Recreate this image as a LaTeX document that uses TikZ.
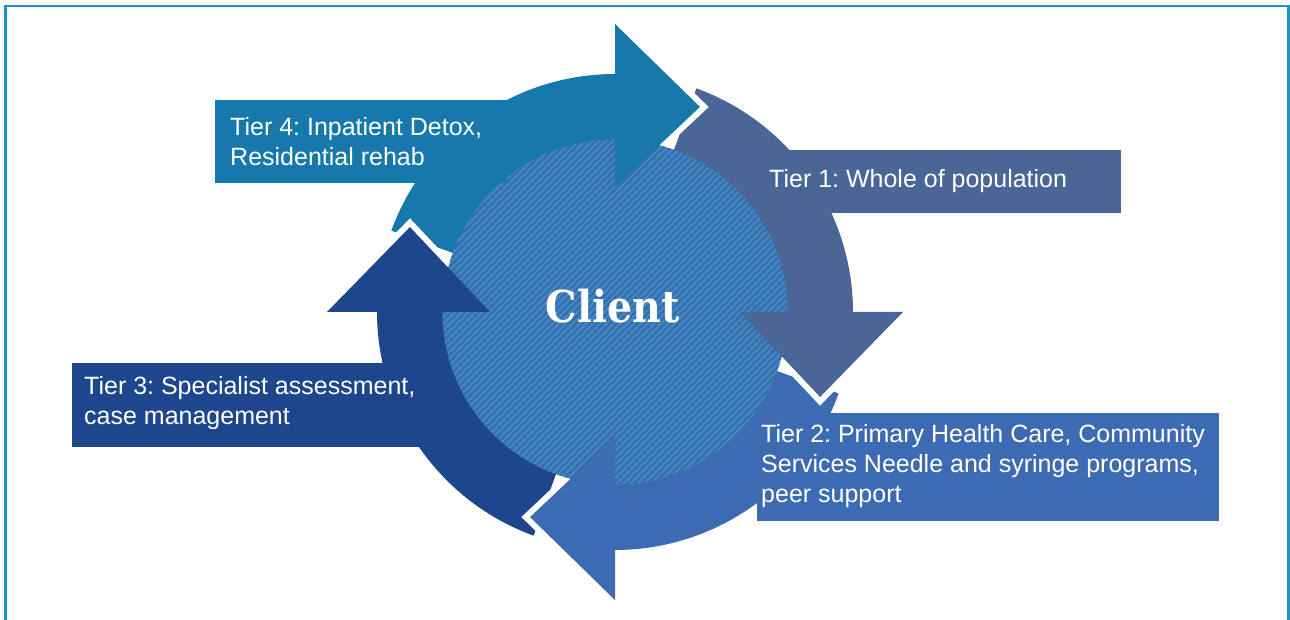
\documentclass[tikz,border=0pt]{standalone}
\usepackage{fontspec}
\setmainfont{Liberation Sans}
\newfontfamily\clientfont{DejaVu Serif Condensed}
\usetikzlibrary{calc}
\frenchspacing
\definecolor{cteal}{HTML}{1778AB}
\definecolor{cslate}{HTML}{4A6697}
\definecolor{cblue}{HTML}{3D6BB3}
\definecolor{cnavy}{HTML}{1D468C}
\definecolor{hlight}{HTML}{4189C8}
\definecolor{hdark}{HTML}{386FAA}
\definecolor{cframe}{HTML}{1A94C4}
\newcommand\ringbody[3]{\fill[#1] (#2:238) arc[start angle=#2,end angle=#3-0.6,radius=238] -- (#3-0.6:172) arc[start angle=#3-0.6,end angle=#2,radius=172] -- cycle;}
\newcommand\ringhead[2]{\fill[#1] (#2:288) -- (#2-22.5:222) -- (#2:125) -- cycle;}
\newcommand\ringgap[1]{\draw[white,line width=12pt,miter limit=10] (#1:288) -- (#1-22.5:222) -- (#1:125);}
\tikzset{
  labelbox/.style={rectangle, inner sep=0pt, draw=none, anchor=north west},
  labeltext/.style={text=white, inner sep=0pt, anchor=base west, align=left,
    font=\fontsize{25}{30}\selectfont},
}
\begin{document}
\begin{tikzpicture}[x=1pt,y=1pt]
\useasboundingbox (0,0) rectangle (1290,619);
\coordinate (C) at (615,307);
% frame
\draw[cframe, line width=2.2pt] (5.5,-3) -- (5.5,613) -- (1288.5,613) -- (1288.5,-3);
\begin{scope}[shift={(615,307)}]
  % bodies
  \ringbody{cteal}{160}{90}
  \ringbody{cslate}{70}{0}
  \ringbody{cblue}{-20}{-90}
  \ringbody{cnavy}{250}{180}
  % gaps
  \ringgap{90}
  \ringgap{0}
  \ringgap{-90}
  \ringgap{180}
\end{scope}
% central circle with hatching
\begin{scope}
  \clip (C) circle (172.5);
  \fill[hlight] (C) circle (174);
  \foreach \k in {-40,...,40}
    \draw[hdark, line width=2.6pt] ($(C)+(\k*6.8-200,-200)$) -- ++(400,400);
\end{scope}
\begin{scope}[shift={(615,307)}]
  \ringhead{cteal}{90}
  \ringhead{cslate}{0}
  \ringhead{cblue}{-90}
  \ringhead{cnavy}{180}
\end{scope}
% label boxes
\node[labelbox, fill=cteal, minimum width=292, minimum height=83] (box4) at (215,519) {};
\node[labelbox, fill=cslate, minimum width=359, minimum height=63] (box1) at (762,469) {};
\node[labelbox, fill=cblue, minimum width=462, minimum height=108] (box2) at (757,206) {};
\node[labelbox, fill=cnavy, minimum width=368, minimum height=84] (box3) at (72,256) {};
% texts (anchor = baseline of the last line)
\node[labeltext] (t4) at (230,453) {Tier 4: Inpatient Detox,\\Residential rehab};
\node[labeltext] (t1) at (769,431) {Tier 1: Whole of population};
\node[labeltext] (t2) at (761,117) {Tier 2: Primary Health Care, Community\\Services Needle and syringe programs,\\peer support};
\node[labeltext] (t3) at (84,194) {Tier 3: Specialist assessment,\\case management};
\node[text=white, inner sep=0pt, anchor=base, font=\clientfont\bfseries\fontsize{44}{44}\selectfont] (client) at (612.5,296) {Client};
\end{tikzpicture}
\end{document}
